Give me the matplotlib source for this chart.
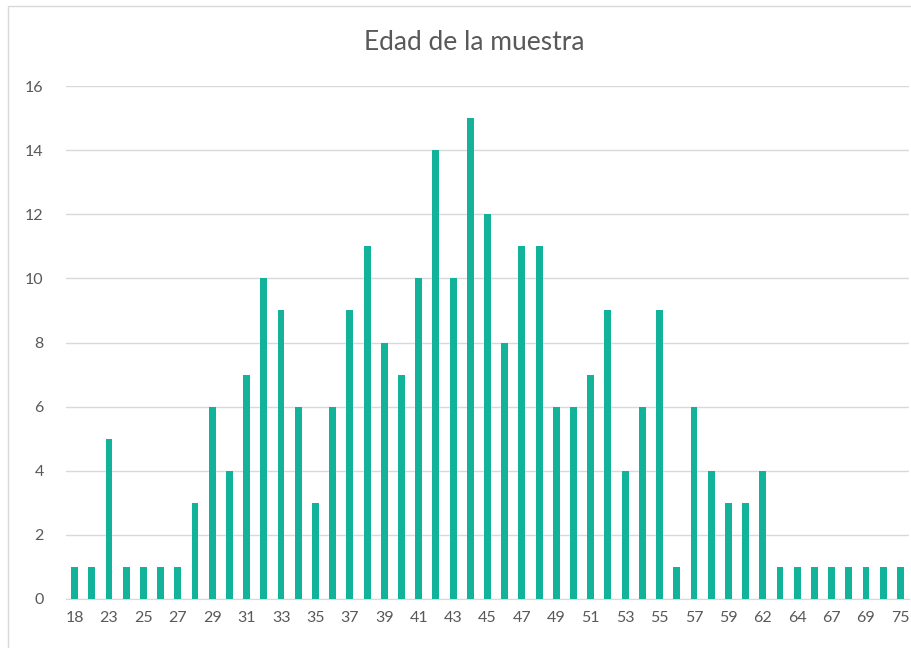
import matplotlib
matplotlib.use("Agg")
import matplotlib.pyplot as plt
from matplotlib.patches import Rectangle

edades = ['18', '20', '23', '24', '25', '26', '27', '28', '29', '30',
          '31', '32', '33', '34', '35', '36', '37', '38', '39', '40',
          '41', '42', '43', '44', '45', '46', '47', '48', '49', '50',
          '51', '52', '53', '54', '55', '56', '57', '58', '59', '60',
          '62', '63', '64', '65', '67', '68', '69', '72', '75']
frecuencia = [1, 1, 5, 1, 1, 1, 1, 3, 6, 4,
              7, 10, 9, 6, 3, 6, 9, 11, 8, 7,
              10, 14, 10, 15, 12, 8, 11, 11, 6, 6,
              7, 9, 4, 6, 9, 1, 6, 4, 3, 3,
              4, 1, 1, 1, 1, 1, 1, 1, 1]

plt.rcParams['font.family'] = ['Lato', 'DejaVu Sans']
gris = '#595959'

fig = plt.figure(figsize=(9.11, 6.48), dpi=100)
ax = fig.add_axes([66 / 911, 1 - 599 / 648, 843 / 911, (599 - 86) / 648])

x = list(range(len(edades)))
ax.bar(x, frecuencia, width=0.4, color='#13b29a', zorder=3)

ax.set_xlim(-0.5, len(edades) - 0.5)
ax.set_ylim(0, 16)
ax.set_yticks(range(0, 17, 2))
ax.set_xticks(x[::2])
ax.set_xticklabels(edades[::2])
ax.tick_params(axis='both', length=0, colors=gris, labelsize=11.5)
ax.tick_params(axis='y', pad=16)
ax.tick_params(axis='x', pad=9)
ax.grid(axis='y', color='#d9d9d9', linewidth=1, zorder=0)
for s in ['top', 'right', 'left']:
    ax.spines[s].set_visible(False)
ax.spines['bottom'].set_color('#d9d9d9')

fig.text(474 / 911, 1 - 42 / 648, 'Edad de la muestra', ha='center', va='center',
         fontsize=19, color=gris)

fig.patches.append(Rectangle((8 / 911, -0.1), 1.1, 1 - 6 / 648 + 0.1,
                             transform=fig.transFigure, fill=False,
                             edgecolor='#d9d9d9', linewidth=1))

fig.savefig('out.png', dpi=100)
